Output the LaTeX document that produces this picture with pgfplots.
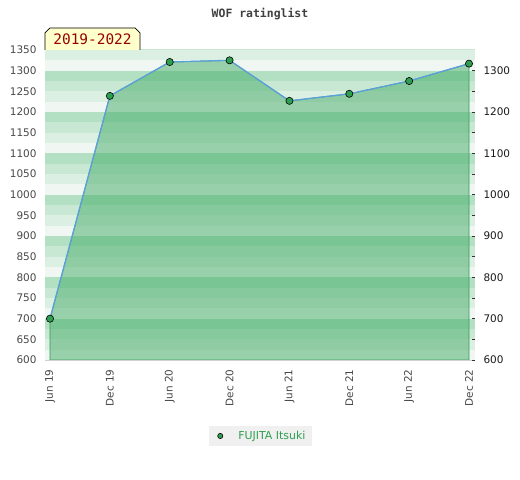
\documentclass[border=0pt]{standalone}
\usepackage{pgfplots}
\pgfplotsset{compat=1.18}
\usepackage{fontspec}
\setmainfont{DejaVu Sans}
\newfontfamily\monofont{DejaVu Sans Mono}
\definecolor{sA}{RGB}{240,247,242}
\definecolor{sB}{RGB}{220,239,227}
\definecolor{sC}{RGB}{200,232,212}
\definecolor{sD}{RGB}{179,223,195}
\definecolor{areafill}{RGB}{69,172,103}
\definecolor{edge}{RGB}{58,158,90}
\definecolor{linecol}{RGB}{91,160,220}
\definecolor{markcol}{RGB}{46,158,80}
\definecolor{labred}{RGB}{153,0,0}
\definecolor{labbg}{RGB}{255,255,204}
\definecolor{legtext}{RGB}{46,160,80}
\begin{document}
\begin{tikzpicture}[x=1bp,y=1bp]
\useasboundingbox (-45,-120) rectangle (475,360);
\begin{axis}[
  at={(0,0)}, anchor=south west,
  scale only axis, width=430bp, height=310bp,
  xmin=-0.0835, xmax=7.1, ymin=600, ymax=1350,
  axis line style={draw=black!18},
  xtick={0,...,7},
  xticklabels={Jun 19,Dec 19,Jun 20,Dec 20,Jun 21,Dec 21,Jun 22,Dec 22},
  x tick label style={rotate=90, anchor=east, font=\fontsize{10.5}{12}\selectfont, text=black!72},
  xticklabel shift=6bp,
  ytick={600,650,...,1350},
  y tick label style={font=\fontsize{10.5}{12}\selectfont, text=black!72},
  yticklabel shift=5bp,
  /pgf/number format/1000 sep={},
  major tick length=0pt,
  tick style={draw=none},
  axis y line*=left, axis x line*=bottom,
  legend style={at={(axis description cs:0.502,-0.245)}, anchor=center,
    fill=black!6, draw=none, font=\fontsize{11}{13}\selectfont, text=legtext,
    inner xsep=5bp, inner ysep=3pt},
  legend image code/.code={\path[draw=none,fill=none] (0bp,0bp) rectangle (17bp,0.1bp); \draw[fill=markcol, draw=black, line width=0.6pt] (6bp,0bp) circle (2.6bp);},
  legend cell align=left,
  /pgf/number format/assume math mode=true,
]
\pgfplotsinvokeforeach{600,700,...,1300}{
  \fill[sA] (axis cs:-0.0835,#1) rectangle (axis cs:7.1,#1+25);
  \fill[sB] (axis cs:-0.0835,#1+25) rectangle (axis cs:7.1,#1+50);
  \fill[sC] (axis cs:-0.0835,#1+50) rectangle (axis cs:7.1,#1+75);
  \fill[sD] (axis cs:-0.0835,#1+75) rectangle (axis cs:7.1,#1+100);
}
\addplot[fill=areafill, fill opacity=0.51, draw=edge, line width=0.8pt, forget plot]
  coordinates {(0,700) (1,1239) (2,1321) (3,1325) (4,1227) (5,1244) (6,1275) (7,1317)} \closedcycle;
\addplot[draw=linecol, line width=1.3pt, mark=none, forget plot]
  coordinates {(0,700) (1,1239) (2,1321) (3,1325) (4,1227) (5,1244) (6,1275) (7,1317)};
\addplot[only marks, mark=*, mark size=3.6bp, mark options={fill=markcol, draw=black, line width=0.6pt}]
  coordinates {(0,700) (1,1239) (2,1321) (3,1325) (4,1227) (5,1244) (6,1275) (7,1317)};
\addlegendentry{\hspace{5bp}FUJITA Itsuki}
\end{axis}
\begin{axis}[
  at={(0,0)}, anchor=south west,
  scale only axis, width=430bp, height=310bp,
  xmin=-0.0835, xmax=7.1, ymin=600, ymax=1350,
  axis y line*=right, axis x line=none,
  axis line style={draw=none},
  ytick={600,700,...,1300},
  minor ytick={650,750,...,1250},
  /pgf/number format/1000 sep={},
  y tick label style={font=\fontsize{10.5}{12}\selectfont, text=black!90},
  yticklabel shift=5bp,
  tick style={draw=black!80, line width=0.6pt},
  major tick length=3bp, minor tick length=3bp,
  /pgf/number format/assume math mode=true,
]
\addplot[draw=none, forget plot] coordinates {(0,700)};
\end{axis}
\draw[fill=labbg, line width=0.7pt] (0,310) -- (0,327) -- (5,332) -- (90,332) -- (95,327) -- (95,310);
\node[text=labred, font=\monofont\fontsize{14.5}{16}\selectfont] at (47.5,320.5) {2019-2022};
\node[text=black!75, font=\monofont\bfseries\fontsize{11.5}{13}\selectfont] at (215,346) {WOF ratinglist};
\end{tikzpicture}
\end{document}
